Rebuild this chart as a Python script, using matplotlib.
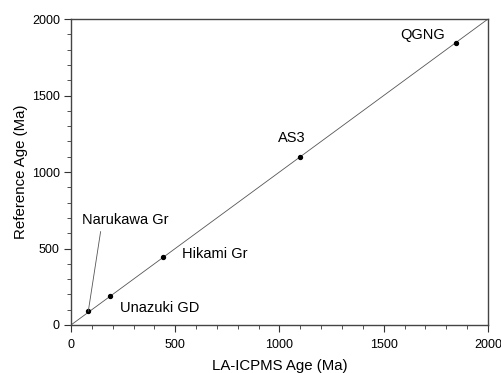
import matplotlib
matplotlib.use("Agg")
from matplotlib import pyplot as plt
from matplotlib.ticker import MultipleLocator

plt.rcParams["font.family"] = ["Liberation Sans", "DejaVu Sans"]

samples = ["Narukawa Gr", "Unazuki GD", "Hikami Gr", "AS3", "QGNG"]
la_icpms_age = [83, 187, 440, 1098, 1848]
reference_age = [90, 192, 442, 1100, 1841]
# label text positions (data units, left/baseline)
label_x = [55, 235, 532, 993, 1578]
label_y = [660, 87, 438, 1198, 1869]

fig = plt.figure(figsize=(5.01, 3.73), dpi=100)
ax = fig.add_axes([0.1417, 0.1287, 0.8323, 0.8203])

ax.plot([0, 2000], [0, 2000], color="#555555", lw=0.6, zorder=1)
ax.scatter(la_icpms_age, reference_age, s=8, color="black", zorder=2)

for name, lx, ly in zip(samples, label_x, label_y):
    ax.text(lx, ly, name, fontsize=10.5, va="baseline", ha="left")

# leader line for Narukawa Gr
ax.plot([la_icpms_age[0], 142], [reference_age[0], 610], color="#555555", lw=0.6)

ax.set_xlim(0, 2000)
ax.set_ylim(0, 2000)
ax.xaxis.set_major_locator(MultipleLocator(500))
ax.yaxis.set_major_locator(MultipleLocator(500))
ax.xaxis.set_minor_locator(MultipleLocator(100))
ax.yaxis.set_minor_locator(MultipleLocator(100))
ax.tick_params(which="major", direction="out", length=5, width=0.8, labelsize=9, color="#333333", pad=3)
ax.tick_params(axis="x", which="major", pad=5)
ax.tick_params(which="minor", direction="out", length=3, width=0.6, color="#333333")
for sp in ax.spines.values():
    sp.set_color("#444444")
    sp.set_linewidth(1.0)

ax.set_xlabel("LA-ICPMS Age (Ma)", fontsize=10.8, labelpad=6)
ax.set_ylabel("Reference Age (Ma)", fontsize=10.8, labelpad=3)

fig.savefig("out.png", dpi=100)
